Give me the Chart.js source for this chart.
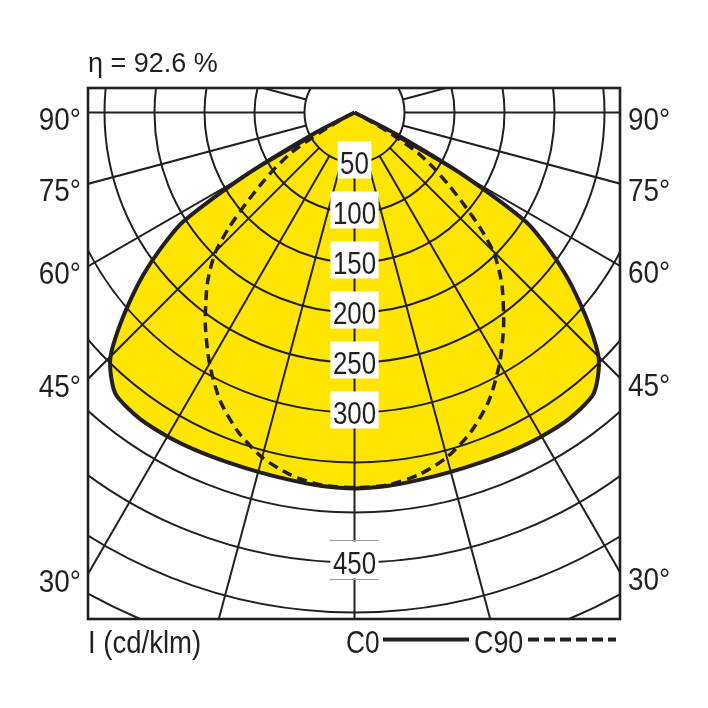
<!DOCTYPE html>
<html>
<head>
<meta charset="utf-8">
<script src="https://cdn.jsdelivr.net/npm/chart.js@4.4.1/dist/chart.umd.min.js"></script>
<style>
  html, body { margin: 0; padding: 0; background: #fff; }
  canvas { display: block; }
</style>
</head>
<body>
<canvas id="ldc" width="708" height="708"></canvas>
<script>
// gamma angles (deg from nadir) and intensities in cd/klm
const angles = [0, 5, 10, 15, 20, 25, 30, 35, 40, 42.5, 45, 47.5, 50, 52.5, 55, 57.5, 60, 62.5, 65];
const c0  = [376, 375, 373, 372, 372, 373, 374, 374, 370, 360, 345, 320, 293, 266, 236, 203, 128, 45, 0];
const c90 = [375, 374, 368, 357, 340, 318, 290, 260, 230, 214, 196, 170, 142, 118, 97, 75, 40, 10, 0];

const ringValues = [50, 100, 150, 200, 250, 300, 350, 400, 450, 500, 550, 600];
const ringLabels = [50, 100, 150, 200, 250, 300, 450];
const sideAngles = [90, 75, 60, 45, 30];
const efficiency = 'η = 92.6 %';
const unitLabel = 'I (cd/klm)';

const ink = '#231f20';
const yellow = '#ffe600';
const FONT = "'Liberation Sans', Arial, sans-serif";
const rad = Math.PI / 180;

const pt = (s, a, I) => ({ x: s * I * Math.sin(a * rad), y: -I * Math.cos(a * rad) });

function outline(vals) {
  const pts = [];
  for (let i = angles.length - 1; i >= 0; i--) pts.push(pt(-1, angles[i], vals[i]));
  for (let i = 1; i < angles.length; i++) pts.push(pt(1, angles[i], vals[i]));
  return pts;
}

// narrow text: the original uses a condensed grotesque
function text(ctx, str, x, y, size, sx, align) {
  ctx.save();
  ctx.font = size + 'px ' + FONT;
  ctx.textAlign = align || 'left';
  ctx.textBaseline = 'alphabetic';
  ctx.translate(x, y);
  ctx.scale(sx, 1);
  ctx.fillText(str, 0, 0);
  ctx.restore();
}

const polarGrid = {
  id: 'polarGrid',
  beforeDatasetsDraw(chart) {
    const { ctx, chartArea: a, scales: { x, y } } = chart;
    const cx = x.getPixelForValue(0), cy = y.getPixelForValue(0);
    const k = x.getPixelForValue(1) - cx;
    ctx.save();
    ctx.beginPath();
    ctx.rect(a.left, a.top, a.right - a.left, a.bottom - a.top);
    ctx.clip();
    ctx.strokeStyle = ink;
    ctx.lineWidth = 2;
    ringValues.forEach(r => {
      ctx.beginPath();
      ctx.arc(cx, cy, r * k, 0, Math.PI * 2);
      ctx.stroke();
    });
    for (let g = 0; g < 360; g += 15) {
      const s = Math.sin(g * rad), c = Math.cos(g * rad);
      ctx.beginPath();
      ctx.moveTo(cx + 50 * k * s, cy + 50 * k * c);
      ctx.lineTo(cx + 800 * k * s, cy + 800 * k * c);
      ctx.stroke();
    }
    // ring value labels on the nadir axis
    ringLabels.forEach(v => {
      const py = y.getPixelForValue(-v);
      ctx.font = '32px ' + FONT;
      const w = ctx.measureText(String(v)).width * 0.81 + 5;
      ctx.fillStyle = '#fff';
      ctx.fillRect(cx - w / 2, py - 21, w, 37);
      if (v === 450) {
        ctx.strokeStyle = '#9a9a9a';
        ctx.lineWidth = 1;
        ctx.beginPath();
        ctx.moveTo(cx - 25, py - 22); ctx.lineTo(cx + 24, py - 22);
        ctx.moveTo(cx - 25, py + 17); ctx.lineTo(cx + 24, py + 17);
        ctx.stroke();
      }
      ctx.fillStyle = ink;
      text(ctx, String(v), cx, py + 11.5, 32, 0.81, 'center');
    });
    ctx.restore();
  },
  afterDraw(chart) {
    const { ctx, chartArea: a, scales: { x, y } } = chart;
    ctx.save();
    ctx.strokeStyle = ink;
    ctx.lineWidth = 2.6;
    ctx.strokeRect(a.left, a.top, a.right - a.left, a.bottom - a.top);

    ctx.fillStyle = ink;
    sideAngles.forEach(g => {
      const t = Math.tan(g * rad);
      const yl = y.getPixelForValue(g === 90 ? 0 : x.min / t);
      const yr = y.getPixelForValue(g === 90 ? 0 : -x.max / t);
      text(ctx, g + '°', a.left - 7, yl + 17.5, 31, 0.9, 'right');
      text(ctx, g + '°', a.right + 8, yr + 17.5, 31, 0.9, 'left');
    });

    text(ctx, efficiency, a.left, 72, 27, 1, 'left');
    text(ctx, unitLabel, a.left, 653, 32, 0.86, 'left');
    text(ctx, 'C0', 346, 653, 32, 0.82, 'left');
    text(ctx, 'C90', 474, 653, 32, 0.84, 'left');

    ctx.lineWidth = 4;
    ctx.beginPath();
    ctx.moveTo(383, 639.5); ctx.lineTo(469, 639.5);
    ctx.stroke();
    ctx.setLineDash([11, 5]);
    ctx.beginPath();
    ctx.moveTo(528, 639.5); ctx.lineTo(616, 639.5);
    ctx.stroke();
    ctx.restore();
  }
};

new Chart(document.getElementById('ldc').getContext('2d'), {
  type: 'scatter',
  data: {
    datasets: [
      {
        label: 'C0', data: outline(c0), showLine: true,
        borderColor: ink, borderWidth: 4, backgroundColor: yellow,
        fill: 'shape', pointRadius: 0, tension: 0.25, borderJoinStyle: 'round'
      },
      {
        label: 'C90', data: outline(c90), showLine: true,
        borderColor: ink, borderWidth: 3.5, borderDash: [10, 6],
        fill: false, pointRadius: 0, tension: 0.25
      }
    ]
  },
  options: {
    responsive: false,
    animation: false,
    events: [],
    layout: { padding: { left: 88, right: 88, top: 88, bottom: 89 } },
    scales: {
      x: { type: 'linear', min: -266.5, max: 265.5, display: false },
      y: { type: 'linear', min: -506.5, max: 24.5, display: false }
    },
    plugins: {
      legend: { display: false },
      tooltip: { enabled: false },
      filler: { drawTime: 'beforeDraw' }
    }
  },
  plugins: [polarGrid]
});
</script>
</body>
</html>
